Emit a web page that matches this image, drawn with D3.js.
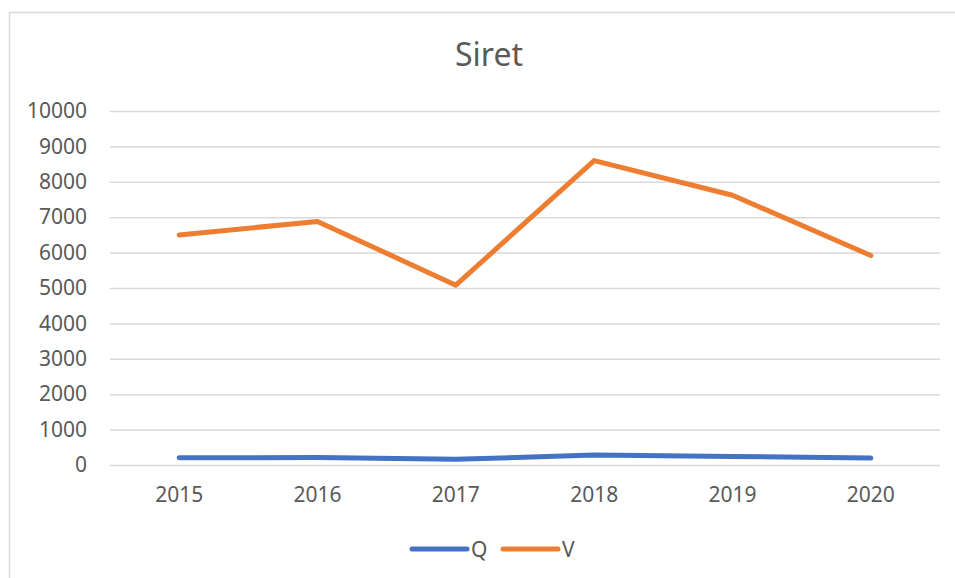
<!DOCTYPE html>
<html>
<head>
<meta charset="utf-8">
<script src="https://cdn.jsdelivr.net/npm/d3@7/dist/d3.min.js"></script>
<style>
  html, body { margin: 0; padding: 0; background: #fff; }
  svg { display: block; font-family: "Noto Sans", "Open Sans", sans-serif; }
</style>
</head>
<body>
<svg id="chart" width="955" height="578"></svg>
<script>
// Yearly figures for Siret
const years = ["2015", "2016", "2017", "2018", "2019", "2020"];
const qValues = [205, 210, 160, 280, 240, 195];
const vValues = [6500, 6880, 5080, 8600, 7620, 5920];
const yTicks = [0, 1000, 2000, 3000, 4000, 5000, 6000, 7000, 8000, 9000, 10000];
const seriesNames = ["Q", "V"];
const seriesColors = ["#4472C4", "#ED7D31"];

const svg = d3.select("#chart");
const plot = { left: 110, right: 940, top: 111, bottom: 465 };
const textColor = "#595959";
const gridColor = "#d9d9d9";

// Outer chart frame
svg.append("rect")
  .attr("x", 9.5).attr("y", 12.5)
  .attr("width", 960).attr("height", 580)
  .attr("fill", "none")
  .attr("stroke", gridColor)
  .attr("stroke-width", 1.5);

// Title
svg.append("text")
  .attr("x", 489).attr("y", 66)
  .attr("text-anchor", "middle")
  .attr("font-size", 32)
  .attr("fill", textColor)
  .text("Siret");

const x = d3.scaleBand().domain(years).range([plot.left, plot.right]);
const y = d3.scaleLinear().domain([0, 10000]).range([plot.bottom, plot.top]);

// Horizontal gridlines with value labels
const yAxis = d3.axisLeft(y)
  .tickValues(yTicks)
  .tickSize(-(plot.right - plot.left))
  .tickPadding(23)
  .tickFormat(d3.format("d"));
const gy = svg.append("g")
  .attr("transform", `translate(${plot.left},0)`)
  .call(yAxis);
gy.select(".domain").remove();
gy.selectAll(".tick line").attr("stroke", gridColor).attr("stroke-width", 1.5);
gy.selectAll(".tick text")
  .attr("fill", textColor)
  .attr("font-size", 21)
  .attr("font-family", "'Noto Sans', sans-serif");

// Category labels
const xAxis = d3.axisBottom(x).tickSize(0).tickPadding(22);
const gx = svg.append("g")
  .attr("transform", `translate(0,${plot.bottom})`)
  .call(xAxis);
gx.select(".domain").remove();
gx.selectAll(".tick text")
  .attr("fill", textColor)
  .attr("font-size", 21)
  .attr("font-family", "'Noto Sans', sans-serif");

// Series lines
const line = d3.line()
  .x((d, i) => x(years[i]) + x.bandwidth() / 2)
  .y(d => y(d));

[qValues, vValues].forEach((vals, k) => {
  svg.append("path")
    .datum(vals)
    .attr("d", line)
    .attr("fill", "none")
    .attr("stroke", seriesColors[k])
    .attr("stroke-width", 5)
    .attr("stroke-linecap", "round")
    .attr("stroke-linejoin", "round");
});

// Legend
const legendItems = [{ x: 412 }, { x: 503 }];
seriesNames.forEach((name, k) => {
  const g = svg.append("g").attr("transform", `translate(${legendItems[k].x},549)`);
  g.append("line")
    .attr("x1", 0).attr("x2", 55)
    .attr("y1", 0).attr("y2", 0)
    .attr("stroke", seriesColors[k])
    .attr("stroke-width", 5)
    .attr("stroke-linecap", "round");
  g.append("text")
    .attr("x", 59).attr("y", 7.5)
    .attr("font-size", 21)
    .attr("fill", textColor)
    .text(name);
});
</script>
</body>
</html>
